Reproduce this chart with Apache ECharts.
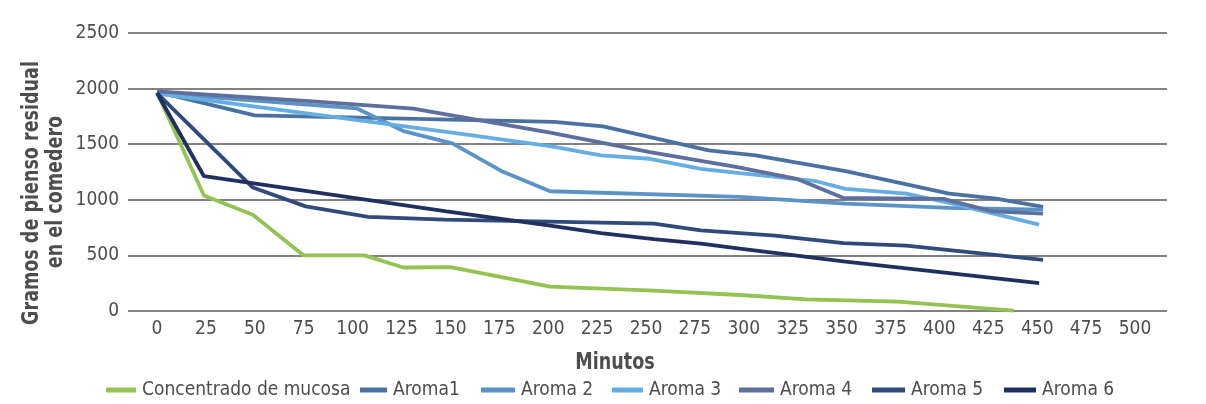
<!DOCTYPE html>
<html><head><meta charset="utf-8">
<script src="https://cdn.jsdelivr.net/npm/echarts@6/dist/echarts.min.js"></script>
<style>html,body{margin:0;padding:0;background:#fff}#c{width:1206px;height:404px}</style>
</head><body><div id="c"></div>
<script>
// ---- data (minutes, grams) ----
const seriesNames = ['Concentrado de mucosa', 'Aroma1', 'Aroma 2', 'Aroma 3', 'Aroma 4', 'Aroma 5', 'Aroma 6'];
const xTicks = [0, 25, 50, 75, 100, 125, 150, 175, 200, 225, 250, 275, 300, 325, 350, 375, 400, 425, 450, 475, 500];
const yTicks = [0, 500, 1000, 1500, 2000, 2500];
const concentrado = [[0,1965],[24,1038],[49,866],[75,500],[106,500],[126,391],[150,394],[201,219],[254,183],[298,144],[332,105],[379,84],[438,3]];
const aroma1 = [[0,1970],[50,1760],[203,1700],[228,1660],[282,1444],[306,1399],[352,1257],[405,1056],[429,1011],[453,936]];
const aroma2 = [[0,1960],[102,1823],[126,1618],[151,1508],[176,1260],[201,1077],[298,1026],[352,966],[405,927],[453,912]];
const aroma3 = [[0,1955],[148,1610],[201,1483],[227,1399],[252,1369],[278,1279],[298,1240],[337,1167],[352,1098],[383,1056],[405,972],[451,776]];
const aroma4 = [[0,1975],[76,1889],[131,1820],[201,1604],[252,1429],[296,1297],[327,1189],[351,1017],[402,1008],[427,896],[453,875]];
const aroma5 = [[0,1960],[49,1110],[76,941],[108,846],[147,821],[254,785],[278,725],[298,701],[316,677],[351,611],[383,587],[453,460]];
const aroma6 = [[0,1960],[24,1212],[148,896],[201,767],[227,701],[254,647],[278,605],[298,560],[352,445],[405,340],[451,250]];
const seriesData = [concentrado, aroma1, aroma2, aroma3, aroma4, aroma5, aroma6];
const yTitleLines = ['Gramos de pienso residual', 'en el comedero'];
const xTitle = 'Minutos';

// ---- styles / layout ----
const colors = ['#94C353', '#4A72A0', '#5B93C6', '#66AEE2', '#5E6E9F', '#2F4A7B', '#21305F'];
const legendLeft = [106, 360, 481, 612, 739, 872, 1004];
const legendItemW = [30, 27, 34, 31, 35, 33, 32];
const FONT = '"DejaVu Sans Condensed", "DejaVu Sans", sans-serif';
const TXT = '#4D4D4D';
const FS = 19;

const chart = echarts.init(document.getElementById('c'), null, {renderer: 'canvas'});
chart.setOption({
  animation: false,
  backgroundColor: '#fff',
  color: colors,
  grid: {left: 128, right: 39, top: 33, bottom: 93, containLabel: false},
  xAxis: {
    type: 'value', min: -14.83, max: 516.36,
    axisLine: {show: false}, axisTick: {show: false}, splitLine: {show: false},
    axisLabel: {customValues: xTicks, formatter: v => String(v), color: TXT, fontFamily: FONT, fontSize: FS, margin: 9}
  },
  yAxis: {
    type: 'value', min: yTicks[0], max: yTicks[yTicks.length - 1], interval: 500,
    axisLine: {show: false}, axisTick: {show: false},
    splitLine: {lineStyle: {color: '#595959', width: 1.5}},
    axisLabel: {formatter: v => String(v), color: TXT, fontFamily: FONT, fontSize: FS, margin: 9}
  },
  legend: seriesNames.map((n, i) => ({
    left: legendLeft[i], top: 378, icon: 'rect', itemWidth: legendItemW[i], itemHeight: 5,
    padding: 0, selectedMode: false,
    textStyle: {color: TXT, fontFamily: FONT, fontSize: FS, lineHeight: 24, padding: [0, 0, 0, 1]},
    data: [n]
  })),
  graphic: [
    {type: 'text', x: 32, y: 193, rotation: Math.PI / 2, scaleY: 1.22,
     style: {text: yTitleLines[0], fill: TXT, font: 'bold 19.5px ' + FONT, textAlign: 'center', textVerticalAlign: 'middle'}},
    {type: 'text', x: 56, y: 192, rotation: Math.PI / 2, scaleY: 1.22,
     style: {text: yTitleLines[1], fill: TXT, font: 'bold 19.5px ' + FONT, textAlign: 'center', textVerticalAlign: 'middle'}},
    {type: 'text', x: 615, y: 363, scaleY: 1.22,
     style: {text: xTitle, fill: TXT, font: 'bold 19.5px ' + FONT, textAlign: 'center', textVerticalAlign: 'middle'}}
  ],
  series: seriesNames.map((n, i) => ({
    name: n, type: 'line', data: seriesData[i], symbol: 'none',
    lineStyle: {width: 3.8, color: colors[i]}, itemStyle: {color: colors[i]}
  }))
});
</script></body></html>
